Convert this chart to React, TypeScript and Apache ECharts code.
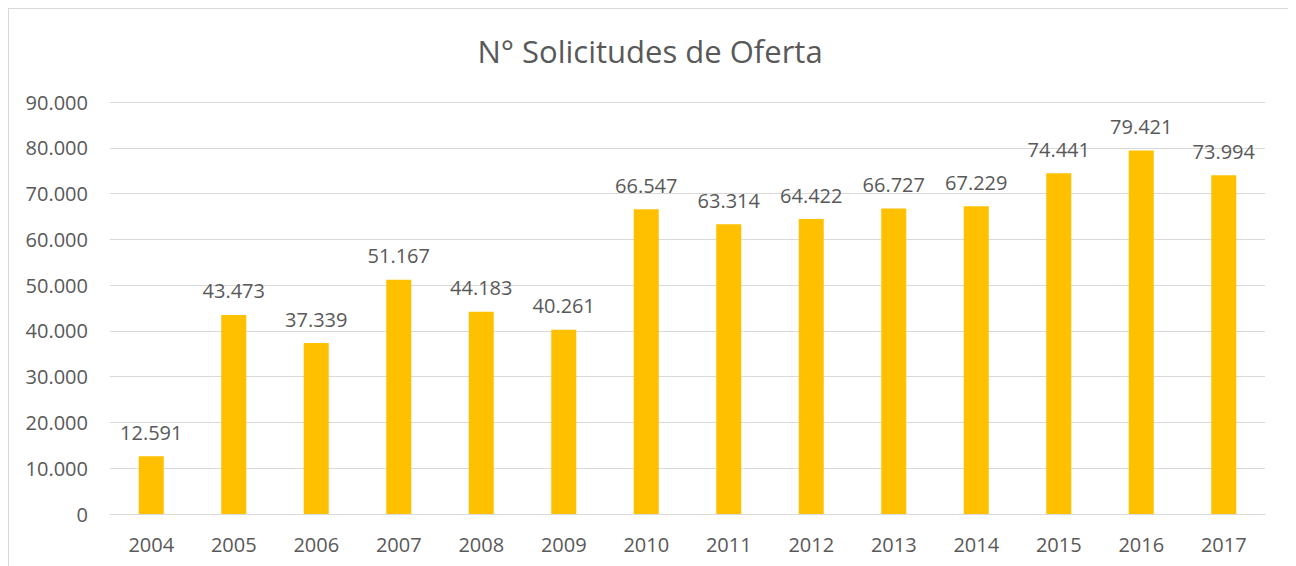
import React, { useEffect, useRef } from "react";
import * as echarts from "echarts";

const title = "N° Solicitudes de Oferta";
const years = ["2004", "2005", "2006", "2007", "2008", "2009", "2010", "2011", "2012", "2013", "2014", "2015", "2016", "2017"];
const solicitudes = [12591, 43473, 37339, 51167, 44183, 40261, 66547, 63314, 64422, 66727, 67229, 74441, 79421, 73994];
const yMax = 90000;
const yStep = 10000;

const fmt = (v: number) => {
  const s = String(Math.round(v));
  return s.replace(/\B(?=(\d{3})+(?!\d))/g, ".");
};

const FONT = "'Open Sans', 'Liberation Sans', sans-serif";
const TEXT = "#595959";

export default function App() {
  const ref = useRef<HTMLDivElement>(null);
  useEffect(() => {
    if (!ref.current) return;
    const chart = echarts.init(ref.current, null, { renderer: "svg" });
    chart.setOption({
      animation: false,
      backgroundColor: "#ffffff",
      title: {
        text: title,
        left: "center",
        top: 21,
        textStyle: { fontFamily: FONT, fontSize: 31, fontWeight: "normal", color: TEXT },
      },
      grid: { left: 101, right: 26, top: 93, bottom: 59, containLabel: false },
      xAxis: {
        type: "category",
        data: years,
        axisLine: { show: true, lineStyle: { color: "#d9d9d9", width: 1 } },
        axisTick: { show: false },
        axisLabel: { color: TEXT, fontFamily: FONT, fontSize: 20, margin: 20 },
      },
      yAxis: {
        type: "value",
        min: 0,
        max: yMax,
        interval: yStep,
        axisLine: { show: false },
        axisTick: { show: false },
        splitLine: { lineStyle: { color: "#d9d9d9", width: 1 } },
        axisLabel: {
          color: TEXT,
          fontFamily: FONT,
          fontSize: 20,
          margin: 22,
          formatter: (v: number) => fmt(v),
        },
      },
      series: [
        {
          type: "bar",
          data: solicitudes,
          barWidth: 25,
          itemStyle: { color: "#FFC000" },
          label: {
            show: true,
            position: "top",
            distance: 14,
            color: TEXT,
            fontFamily: FONT,
            fontSize: 20,
            formatter: (p: any) => fmt(p.value),
          },
        },
      ],
    });
    return () => chart.dispose();
  }, []);
  return (
    <div style={{ width: 1282, height: 564, border: "1px solid #d9d9d9", background: "#fff" }}>
      <div ref={ref} style={{ width: 1282, height: 564 }} />
    </div>
  );
}
